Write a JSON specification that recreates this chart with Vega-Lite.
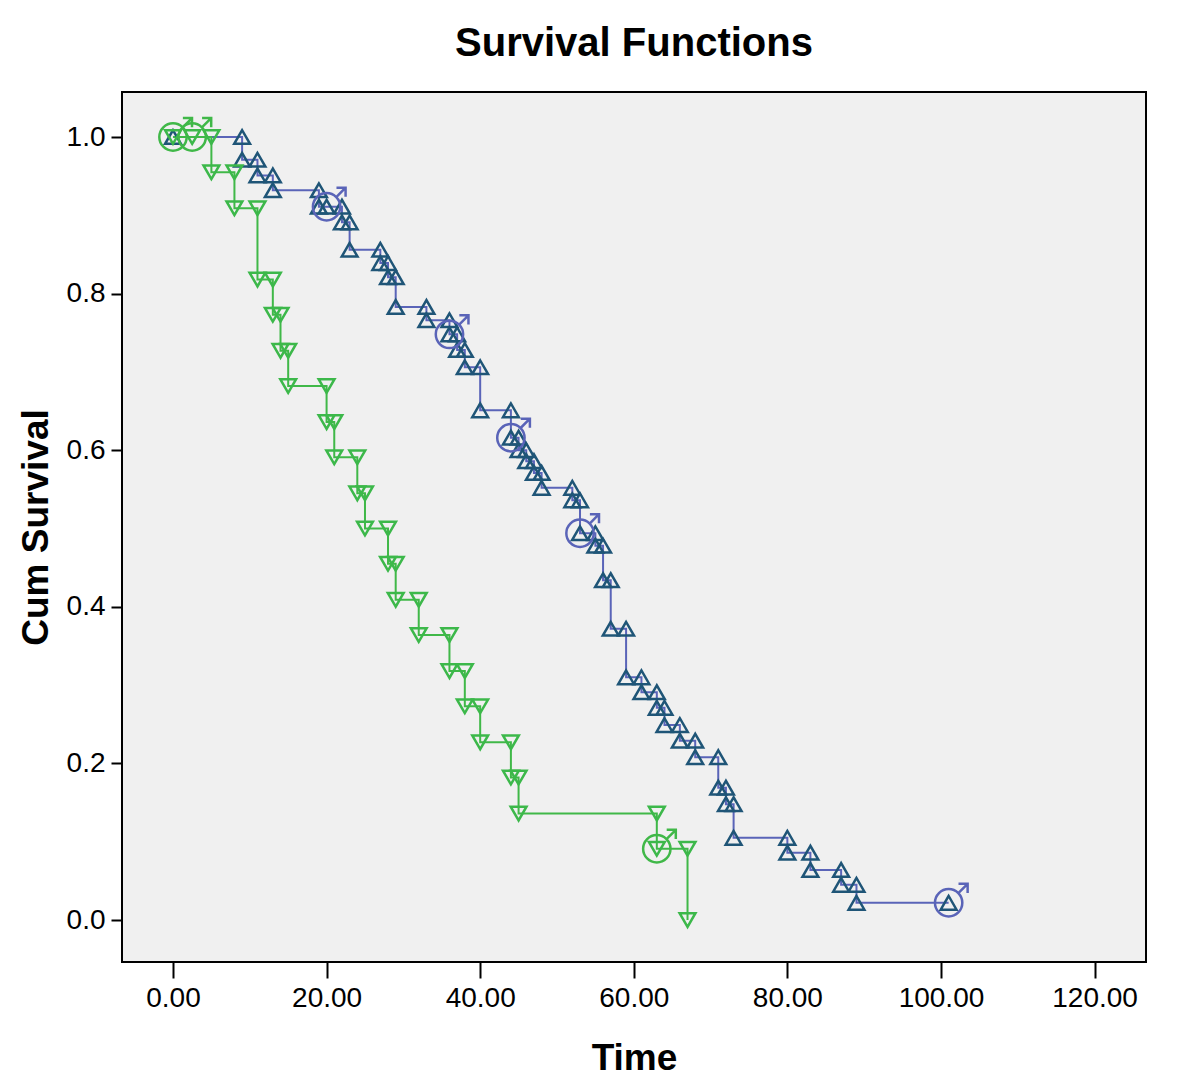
{
  "$schema": "https://vega.github.io/schema/vega-lite/v6.json",
  "width": 1024,
  "height": 870,
  "autosize": {"type": "none"},
  "padding": {"left": 122, "top": 92, "right": 54, "bottom": 129},
  "background": "white",
  "title": {"text": "Survival Functions", "fontSize": 40, "fontWeight": "bold", "font": "Liberation Sans", "color": "#000000", "offset": 28, "anchor": "middle", "frame": "group"},
  "config": {
    "view": {"fill": "#f0f0f0", "stroke": "#000000", "strokeWidth": 2},
    "axis": {"labelFont": "Liberation Sans", "titleFont": "Liberation Sans", "labelColor": "#000000", "titleColor": "#000000", "tickColor": "#000000", "tickWidth": 2, "grid": false, "domain": false, "labelFontSize": 28, "titleFontSize": 37, "titleFontWeight": "bold"}
  },
  "datasets": {
    "path": [
      {"g": "1", "i": 0, "t": 0, "s": 1.0, "c": 0},
      {"g": "1", "i": 1, "t": 9, "s": 1.0, "c": 0},
      {"g": "1", "i": 2, "t": 9, "s": 0.971, "c": 0},
      {"g": "1", "i": 3, "t": 11, "s": 0.971, "c": 0},
      {"g": "1", "i": 4, "t": 11, "s": 0.951, "c": 0},
      {"g": "1", "i": 5, "t": 13, "s": 0.951, "c": 0},
      {"g": "1", "i": 6, "t": 13, "s": 0.932, "c": 0},
      {"g": "1", "i": 7, "t": 19, "s": 0.932, "c": 0},
      {"g": "1", "i": 8, "t": 19, "s": 0.911, "c": 0},
      {"g": "1", "i": 9, "t": 20, "s": 0.911, "c": 1},
      {"g": "1", "i": 10, "t": 22, "s": 0.911, "c": 0},
      {"g": "1", "i": 11, "t": 22, "s": 0.891, "c": 0},
      {"g": "1", "i": 12, "t": 23, "s": 0.891, "c": 0},
      {"g": "1", "i": 13, "t": 23, "s": 0.856, "c": 0},
      {"g": "1", "i": 14, "t": 27, "s": 0.856, "c": 0},
      {"g": "1", "i": 15, "t": 27, "s": 0.839, "c": 0},
      {"g": "1", "i": 16, "t": 28, "s": 0.839, "c": 0},
      {"g": "1", "i": 17, "t": 28, "s": 0.821, "c": 0},
      {"g": "1", "i": 18, "t": 29, "s": 0.821, "c": 0},
      {"g": "1", "i": 19, "t": 29, "s": 0.783, "c": 0},
      {"g": "1", "i": 20, "t": 33, "s": 0.783, "c": 0},
      {"g": "1", "i": 21, "t": 33, "s": 0.766, "c": 0},
      {"g": "1", "i": 22, "t": 36, "s": 0.766, "c": 0},
      {"g": "1", "i": 23, "t": 36, "s": 0.748, "c": 1},
      {"g": "1", "i": 24, "t": 37, "s": 0.748, "c": 0},
      {"g": "1", "i": 25, "t": 37, "s": 0.728, "c": 0},
      {"g": "1", "i": 26, "t": 38, "s": 0.728, "c": 0},
      {"g": "1", "i": 27, "t": 38, "s": 0.706, "c": 0},
      {"g": "1", "i": 28, "t": 40, "s": 0.706, "c": 0},
      {"g": "1", "i": 29, "t": 40, "s": 0.651, "c": 0},
      {"g": "1", "i": 30, "t": 44, "s": 0.651, "c": 0},
      {"g": "1", "i": 31, "t": 44, "s": 0.616, "c": 1},
      {"g": "1", "i": 32, "t": 45, "s": 0.616, "c": 0},
      {"g": "1", "i": 33, "t": 45, "s": 0.600, "c": 0},
      {"g": "1", "i": 34, "t": 46, "s": 0.600, "c": 0},
      {"g": "1", "i": 35, "t": 46, "s": 0.586, "c": 0},
      {"g": "1", "i": 36, "t": 47, "s": 0.586, "c": 0},
      {"g": "1", "i": 37, "t": 47, "s": 0.571, "c": 0},
      {"g": "1", "i": 38, "t": 48, "s": 0.571, "c": 0},
      {"g": "1", "i": 39, "t": 48, "s": 0.552, "c": 0},
      {"g": "1", "i": 40, "t": 52, "s": 0.552, "c": 0},
      {"g": "1", "i": 41, "t": 52, "s": 0.536, "c": 0},
      {"g": "1", "i": 42, "t": 53, "s": 0.536, "c": 0},
      {"g": "1", "i": 43, "t": 53, "s": 0.494, "c": 1},
      {"g": "1", "i": 44, "t": 55, "s": 0.494, "c": 0},
      {"g": "1", "i": 45, "t": 55, "s": 0.478, "c": 0},
      {"g": "1", "i": 46, "t": 56, "s": 0.478, "c": 0},
      {"g": "1", "i": 47, "t": 56, "s": 0.434, "c": 0},
      {"g": "1", "i": 48, "t": 57, "s": 0.434, "c": 0},
      {"g": "1", "i": 49, "t": 57, "s": 0.372, "c": 0},
      {"g": "1", "i": 50, "t": 59, "s": 0.372, "c": 0},
      {"g": "1", "i": 51, "t": 59, "s": 0.310, "c": 0},
      {"g": "1", "i": 52, "t": 61, "s": 0.310, "c": 0},
      {"g": "1", "i": 53, "t": 61, "s": 0.291, "c": 0},
      {"g": "1", "i": 54, "t": 63, "s": 0.291, "c": 0},
      {"g": "1", "i": 55, "t": 63, "s": 0.271, "c": 0},
      {"g": "1", "i": 56, "t": 64, "s": 0.271, "c": 0},
      {"g": "1", "i": 57, "t": 64, "s": 0.249, "c": 0},
      {"g": "1", "i": 58, "t": 66, "s": 0.249, "c": 0},
      {"g": "1", "i": 59, "t": 66, "s": 0.229, "c": 0},
      {"g": "1", "i": 60, "t": 68, "s": 0.229, "c": 0},
      {"g": "1", "i": 61, "t": 68, "s": 0.208, "c": 0},
      {"g": "1", "i": 62, "t": 71, "s": 0.208, "c": 0},
      {"g": "1", "i": 63, "t": 71, "s": 0.169, "c": 0},
      {"g": "1", "i": 64, "t": 72, "s": 0.169, "c": 0},
      {"g": "1", "i": 65, "t": 72, "s": 0.148, "c": 0},
      {"g": "1", "i": 66, "t": 73, "s": 0.148, "c": 0},
      {"g": "1", "i": 67, "t": 73, "s": 0.105, "c": 0},
      {"g": "1", "i": 68, "t": 80, "s": 0.105, "c": 0},
      {"g": "1", "i": 69, "t": 80, "s": 0.086, "c": 0},
      {"g": "1", "i": 70, "t": 83, "s": 0.086, "c": 0},
      {"g": "1", "i": 71, "t": 83, "s": 0.064, "c": 0},
      {"g": "1", "i": 72, "t": 87, "s": 0.064, "c": 0},
      {"g": "1", "i": 73, "t": 87, "s": 0.045, "c": 0},
      {"g": "1", "i": 74, "t": 89, "s": 0.045, "c": 0},
      {"g": "1", "i": 75, "t": 89, "s": 0.022, "c": 0},
      {"g": "1", "i": 76, "t": 101, "s": 0.022, "c": 1},
      {"g": "2", "i": 0, "t": 0, "s": 1.0, "c": 1},
      {"g": "2", "i": 1, "t": 2.5, "s": 1.0, "c": 1},
      {"g": "2", "i": 2, "t": 5, "s": 1.0, "c": 0},
      {"g": "2", "i": 3, "t": 5, "s": 0.955, "c": 0},
      {"g": "2", "i": 4, "t": 8, "s": 0.955, "c": 0},
      {"g": "2", "i": 5, "t": 8, "s": 0.909, "c": 0},
      {"g": "2", "i": 6, "t": 11, "s": 0.909, "c": 0},
      {"g": "2", "i": 7, "t": 11, "s": 0.818, "c": 0},
      {"g": "2", "i": 8, "t": 13, "s": 0.818, "c": 0},
      {"g": "2", "i": 9, "t": 13, "s": 0.773, "c": 0},
      {"g": "2", "i": 10, "t": 14, "s": 0.773, "c": 0},
      {"g": "2", "i": 11, "t": 14, "s": 0.727, "c": 0},
      {"g": "2", "i": 12, "t": 15, "s": 0.727, "c": 0},
      {"g": "2", "i": 13, "t": 15, "s": 0.682, "c": 0},
      {"g": "2", "i": 14, "t": 20, "s": 0.682, "c": 0},
      {"g": "2", "i": 15, "t": 20, "s": 0.636, "c": 0},
      {"g": "2", "i": 16, "t": 21, "s": 0.636, "c": 0},
      {"g": "2", "i": 17, "t": 21, "s": 0.591, "c": 0},
      {"g": "2", "i": 18, "t": 24, "s": 0.591, "c": 0},
      {"g": "2", "i": 19, "t": 24, "s": 0.545, "c": 0},
      {"g": "2", "i": 20, "t": 25, "s": 0.545, "c": 0},
      {"g": "2", "i": 21, "t": 25, "s": 0.500, "c": 0},
      {"g": "2", "i": 22, "t": 28, "s": 0.500, "c": 0},
      {"g": "2", "i": 23, "t": 28, "s": 0.455, "c": 0},
      {"g": "2", "i": 24, "t": 29, "s": 0.455, "c": 0},
      {"g": "2", "i": 25, "t": 29, "s": 0.409, "c": 0},
      {"g": "2", "i": 26, "t": 32, "s": 0.409, "c": 0},
      {"g": "2", "i": 27, "t": 32, "s": 0.364, "c": 0},
      {"g": "2", "i": 28, "t": 36, "s": 0.364, "c": 0},
      {"g": "2", "i": 29, "t": 36, "s": 0.318, "c": 0},
      {"g": "2", "i": 30, "t": 38, "s": 0.318, "c": 0},
      {"g": "2", "i": 31, "t": 38, "s": 0.273, "c": 0},
      {"g": "2", "i": 32, "t": 40, "s": 0.273, "c": 0},
      {"g": "2", "i": 33, "t": 40, "s": 0.227, "c": 0},
      {"g": "2", "i": 34, "t": 44, "s": 0.227, "c": 0},
      {"g": "2", "i": 35, "t": 44, "s": 0.182, "c": 0},
      {"g": "2", "i": 36, "t": 45, "s": 0.182, "c": 0},
      {"g": "2", "i": 37, "t": 45, "s": 0.136, "c": 0},
      {"g": "2", "i": 38, "t": 63, "s": 0.136, "c": 0},
      {"g": "2", "i": 39, "t": 63, "s": 0.091, "c": 1},
      {"g": "2", "i": 40, "t": 67, "s": 0.091, "c": 0},
      {"g": "2", "i": 41, "t": 67, "s": 0.0, "c": 0}
    ]
  },
  "data": {"name": "path"},
  "encoding": {
    "x": {"field": "t", "type": "quantitative", "scale": {"domain": [-6.64, 126.7], "nice": false, "zero": false},
      "axis": {"values": [0, 20, 40, 60, 80, 100, 120], "format": ".2f", "tickSize": 16, "labelPadding": 6, "title": "Time", "titleY": 96, "titleBaseline": "middle"}},
    "y": {"field": "s", "type": "quantitative", "scale": {"domain": [-0.0536, 1.0575], "nice": false, "zero": false},
      "axis": {"values": [0, 0.2, 0.4, 0.6, 0.8, 1.0], "format": ".1f", "tickSize": 11, "labelPadding": 6, "title": "Cum Survival", "titleX": -86, "titleY": 435, "titleAngle": 270, "titleAlign": "center", "titleBaseline": "middle"}}
  },
  "layer": [
    {
      "mark": {"type": "line", "strokeWidth": 2},
      "encoding": {
        "color": {"field": "g", "type": "nominal", "scale": {"domain": ["1", "2"], "range": ["#5a64b8", "#40b848"]}, "legend": null},
        "order": {"field": "i", "type": "quantitative"}
      }
    },
    {
      "mark": {"type": "point", "filled": false, "size": 250, "strokeWidth": 2.5, "opacity": 1},
      "encoding": {
        "shape": {"field": "g", "type": "nominal", "scale": {"domain": ["1", "2"], "range": ["triangle-up", "triangle-down"]}, "legend": null},
        "stroke": {"field": "g", "type": "nominal", "scale": {"domain": ["1", "2"], "range": ["#1f5577", "#3cb84a"]}, "legend": null}
      }
    },
    {
      "transform": [{"filter": "datum.c == 1"}],
      "mark": {"type": "point", "filled": false, "size": 1444, "strokeWidth": 2.5, "opacity": 1,
        "shape": "M-0.72,0 A0.72,0.72 0 1,0 0.72,0 A0.72,0.72 0 1,0 -0.72,0 M0.51,-0.51 L1,-1 M0.52,-1 L1,-1 L1,-0.52"},
      "encoding": {
        "color": {"field": "g", "type": "nominal", "scale": {"domain": ["1", "2"], "range": ["#5a64b8", "#40b848"]}, "legend": null}
      }
    }
  ]
}
